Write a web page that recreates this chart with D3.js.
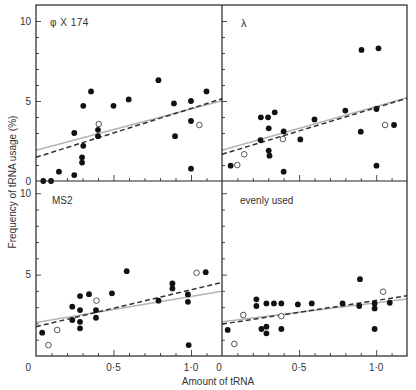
<!DOCTYPE html>
<html><head><meta charset="utf-8">
<script src="https://cdn.jsdelivr.net/npm/d3@7"></script>
<style>body{margin:0;background:#fff}svg{display:block}text{font-family:"Liberation Sans",Arial,sans-serif;fill:#333}</style>
</head><body><svg id="c" width="416" height="390"></svg>
<script>
// ---- data ----
const panelNames = ["φ X 174", "λ", "MS2", "evenly used"];
// phiX174
const phiFilledX = [0.047,0.097,0.148,0.247,0.247,0.297,0.297,0.305,0.305,0.355,0.40,0.40,0.50,0.598,0.79,0.89,0.897,1.0,1.0,1.0,1.10];
const phiFilledY = [0.0,0.0,0.58,0.37,3.0,1.15,1.48,2.2,4.7,5.6,2.8,3.2,4.7,5.1,6.3,4.85,2.8,5.0,3.75,0.77,5.6];
const phiOpenX = [0.405,1.054];
const phiOpenY = [3.56,3.5];
const phiDashed = [[0,1.48],[1.2,5.14]];
const phiSolid = [[0,1.92],[1.2,5.02]];
// lambda
const lamFilledX = [0.056,0.252,0.299,0.342,0.303,0.25,0.303,0.308,0.40,0.40,0.508,0.60,0.80,0.905,0.90,1.015,1.002,1.002,1.116];
const lamFilledY = [0.96,3.98,3.98,4.29,3.29,2.56,1.9,1.58,3.1,0.58,2.6,3.85,4.4,8.19,3.08,8.29,4.5,0.96,3.5];
const lamOpenX = [0.099,0.144,0.395,1.058];
const lamOpenY = [1.0,1.67,2.62,3.5];
const lamDashed = [[0,1.67],[1.2,5.17]];
const lamSolid = [[0,1.92],[1.2,5.2]];
// MS2
const ms2FilledX = [0.04,0.234,0.234,0.284,0.284,0.284,0.284,0.342,0.387,0.387,0.49,0.585,0.79,0.88,0.88,0.98,0.98,0.985,1.095];
const ms2FilledY = [1.43,3.03,2.21,3.68,2.82,2.1,1.7,3.8,2.82,2.35,3.85,5.21,3.4,4.46,4.15,3.78,3.33,0.67,5.15];
const ms2OpenX = [0.08,0.137,0.39,1.036];
const ms2OpenY = [0.67,1.6,3.4,5.11];
const ms2Dashed = [[0,1.8],[1.2,4.52]];
const ms2Solid = [[0,2.06],[1.2,3.98]];
// evenly used
const evFilledX = [0.037,0.223,0.223,0.256,0.288,0.288,0.288,0.337,0.385,0.385,0.492,0.582,0.782,0.895,0.89,0.99,0.99,0.99,1.088];
const evFilledY = [1.6,3.48,3.07,1.66,1.8,1.39,3.23,3.23,3.23,1.66,3.17,3.23,3.23,4.72,3.07,3.23,2.92,1.66,3.27];
const evOpenX = [0.08,0.138,0.385,1.045];
const evOpenY = [0.74,2.52,2.45,3.95];
const evDashed = [[0,1.96],[1.2,3.7]];
const evSolid = [[0,2.1],[1.2,3.5]];

const xMinorTicks = [0.1,0.2,0.3,0.4,0.6,0.7,0.8,0.9,1.1];
const xMajorTicks = [0.5,1.0];
const xTickLabels = ["0·5","1·0"];
const yMinorTicks = [1,2,3,4,6,7,8,9];
const yMajorTicks = [5,10];
const yTickLabels = ["5","10"];

// ---- layout ----
const svg = d3.select("#c");
const X0 = 36, XD = 222, X1 = 407, YT = 5, YM = 181, YB = 356;
const xLeft = d3.scaleLinear().domain([0,1.2]).range([X0,XD]);
const xRight = d3.scaleLinear().domain([0,1.2]).range([XD,X1]);
const yTopS = d3.scaleLinear().domain([0,11]).range([YM,YT]);
const yBotS = d3.scaleLinear().domain([0,10.75]).range([YB,YM]);

const panels = [
  {name:panelNames[0], x:xLeft, y:yTopS, fx:phiFilledX, fy:phiFilledY, ox:phiOpenX, oy:phiOpenY, d:phiDashed, s:phiSolid, lx:50, ly:22},
  {name:panelNames[1], x:xRight, y:yTopS, fx:lamFilledX, fy:lamFilledY, ox:lamOpenX, oy:lamOpenY, d:lamDashed, s:lamSolid, lx:241, ly:23},
  {name:panelNames[2], x:xLeft, y:yBotS, fx:ms2FilledX, fy:ms2FilledY, ox:ms2OpenX, oy:ms2OpenY, d:ms2Dashed, s:ms2Solid, lx:52, ly:200},
  {name:panelNames[3], x:xRight, y:yBotS, fx:evFilledX, fy:evFilledY, ox:evOpenX, oy:evOpenY, d:evDashed, s:evSolid, lx:240, ly:200}
];

const axisColor = "#222";
panels.forEach((p,i)=>{
  const g = svg.append("g");
  const y0 = p.y.range()[0];
  const ax1 = g.append("g").attr("transform",`translate(0,${y0})`)
    .call(d3.axisTop(p.x).tickValues(xMinorTicks).tickSize(3).tickFormat(""));
  const ax2 = g.append("g").attr("transform",`translate(0,${y0})`)
    .call(d3.axisTop(p.x).tickValues(xMajorTicks).tickSize(6).tickFormat(""));
  const xl = p.x.range()[0];
  const ay1 = g.append("g").attr("transform",`translate(${xl},0)`)
    .call(d3.axisRight(p.y).tickValues(yMinorTicks).tickSize(3).tickFormat(""));
  const ay2 = g.append("g").attr("transform",`translate(${xl},0)`)
    .call(d3.axisRight(p.y).tickValues(yMajorTicks).tickSize(5).tickFormat(""));
  [ax1,ax2,ay1,ay2].forEach(a=>{a.select(".domain").remove(); a.selectAll("line").attr("stroke",axisColor).attr("stroke-width",0.8);});

  const line = d3.line().x(d=>p.x(d[0])).y(d=>p.y(d[1]));
  g.append("path").attr("d",line(p.s)).attr("fill","none").attr("stroke","#b5b5b5").attr("stroke-width",1.6);
  g.append("path").attr("d",line(p.d)).attr("fill","none").attr("stroke","#333").attr("stroke-width",1.5).attr("stroke-dasharray","5,3");

  g.selectAll(".f").data(p.fx.map((v,k)=>[v,p.fy[k]])).join("circle")
    .attr("cx",d=>p.x(d[0])).attr("cy",d=>p.y(d[1])).attr("r",2.9).attr("fill","#111");
  g.selectAll(".o").data(p.ox.map((v,k)=>[v,p.oy[k]])).join("circle")
    .attr("cx",d=>p.x(d[0])).attr("cy",d=>p.y(d[1])).attr("r",2.8).attr("fill","#fff").attr("stroke","#444").attr("stroke-width",0.9);

  g.append("text").attr("x",p.lx).attr("y",p.ly).attr("dy","0.35em")
    .attr("font-size", i===1?11:10).attr("letter-spacing",i===0?"0.5px":"0").text(p.name);
});

svg.append("rect").attr("x",X0).attr("y",YT).attr("width",X1-X0).attr("height",YB-YT)
  .attr("fill","none").attr("stroke",axisColor).attr("stroke-width",1.2);
svg.append("line").attr("x1",XD).attr("x2",XD).attr("y1",YT).attr("y2",YB).attr("stroke",axisColor).attr("stroke-width",1.2);
svg.append("line").attr("x1",X0).attr("x2",X1).attr("y1",YM).attr("y2",YM).attr("stroke",axisColor).attr("stroke-width",1.2);

[yTopS,yBotS].forEach(ys=>{
  svg.append("g").selectAll("text").data(yMajorTicks).join("text")
    .attr("x",31).attr("y",d=>ys(d)).attr("dy","0.35em").attr("text-anchor","end").attr("font-size",10)
    .text((d,k)=>yTickLabels[k]);
});
svg.append("text").attr("x",31).attr("y",yTopS(0)).attr("dy","0.35em").attr("text-anchor","end").attr("font-size",10).text("0");
svg.append("text").attr("x",31).attr("y",367).attr("dy","0.35em").attr("text-anchor","end").attr("font-size",10).text("0");

[xLeft,xRight].forEach(xs=>{
  svg.append("g").selectAll("text").data(xMajorTicks).join("text")
    .attr("x",d=>xs(d)).attr("y",367).attr("dy","0.35em").attr("text-anchor","middle").attr("font-size",10)
    .text((d,k)=>xTickLabels[k]);
});
svg.append("text").attr("x",xRight(0)-3).attr("y",367).attr("dy","0.35em").attr("text-anchor","middle").attr("font-size",10).text("0");

svg.append("text").attr("x",218).attr("y",381).attr("dy","0.35em").attr("text-anchor","middle").attr("font-size",10).text("Amount of tRNA");
svg.append("text").attr("transform","translate(12,182) rotate(-90)").attr("dy","0.35em").attr("text-anchor","middle").attr("font-size",10).text("Frequency of tRNA usage (%)");
</script></body></html>
